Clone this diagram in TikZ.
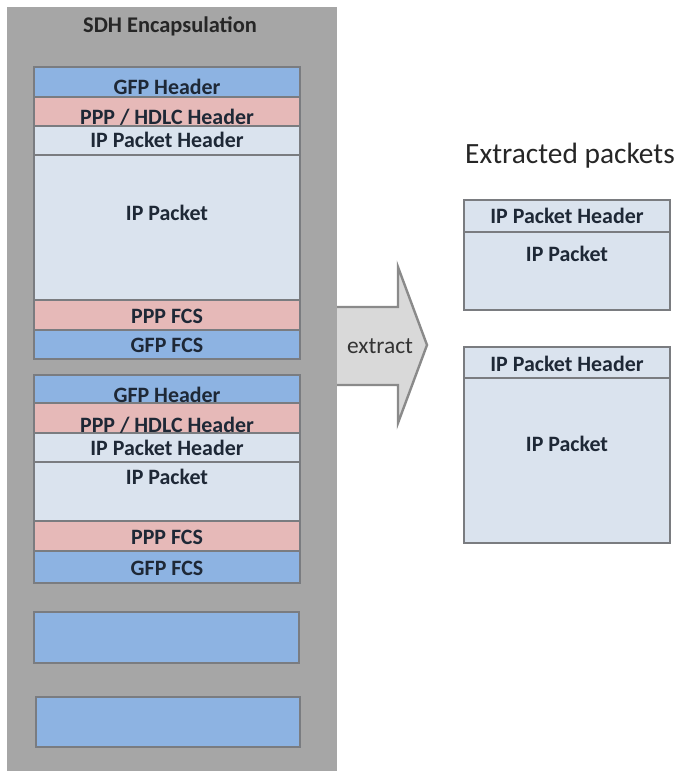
\documentclass[tikz,border=0pt]{standalone}
\usepackage{fontspec}
\setmainfont{Carlito}
\definecolor{framegray}{HTML}{A6A6A6}
\definecolor{cellline}{HTML}{7A7C80}
\definecolor{gfpblue}{HTML}{8DB3E2}
\definecolor{ppppink}{HTML}{E6B9B8}
\definecolor{iplight}{HTML}{DAE3EE}
\definecolor{labeltext}{HTML}{1E2836}
\definecolor{arrowfill}{HTML}{D9D9D9}
\definecolor{arrowline}{HTML}{8A8A8A}
\begin{document}
\begin{tikzpicture}[x=1bp,y=-1bp,
  cell/.style={draw=cellline, line width=2.6bp},
  gfp/.style={cell, fill=gfpblue},
  ppp/.style={cell, fill=ppppink},
  ip/.style={cell, fill=iplight},
  lbl/.style={anchor=base, inner sep=0pt, text=labeltext,
    font=\fontsize{22}{24}\selectfont\bfseries},
  title/.style={anchor=base, inner sep=0pt, text=black!85,
    font=\fontsize{22.5}{24}\selectfont\bfseries},
  heading/.style={anchor=base west, inner sep=0pt, text=black!85,
    font=\fontsize{29.5}{32}\selectfont},
  arrowlbl/.style={anchor=base, inner sep=0pt, text=black!80,
    font=\fontsize{23.5}{26}\selectfont}]
\useasboundingbox (0,0) rectangle (678,771);

% extraction arrow (its tail is hidden under the frame)
\fill[arrowfill] (330,307) -- (398,307) -- (398,267) -- (427,345)
  -- (398,423) -- (398,385) -- (330,385) -- cycle;
\draw[arrowline, line width=2.4bp, line join=miter]
  (330,307) -- (398,307) -- (398,267) -- (427,345)
  -- (398,423) -- (398,385) -- (330,385);
\node[arrowlbl] (extract) at (380,353) {extract};

% SDH frame
\fill[framegray] (7,7) rectangle (337,771);
\node[title] (sdh) at (170,33) {SDH Encapsulation};

% first encapsulated packet
\draw[gfp] (34,67) rectangle (300,97);
\draw[ppp] (34,97) rectangle (300,126);
\draw[ip]  (34,126) rectangle (300,155);
\draw[ip]  (34,155) rectangle (300,300);
\draw[ppp] (34,300) rectangle (300,330);
\draw[gfp] (34,330) rectangle (300,359);
\node[lbl] (gfph1) at (167,94)  {GFP Header};
\node[lbl] (ppph1) at (167,124) {PPP / HDLC Header};
\node[lbl] (iph1)  at (167,147) {IP Packet Header};
\node[lbl] (ipp1)  at (167,220) {IP Packet};
\node[lbl] (pppf1) at (167,323) {PPP FCS};
\node[lbl] (gfpf1) at (167,352) {GFP FCS};

% second encapsulated packet
\draw[gfp] (34,375) rectangle (300,403);
\draw[ppp] (34,403) rectangle (300,433);
\draw[ip]  (34,433) rectangle (300,462);
\draw[ip]  (34,462) rectangle (300,521);
\draw[ppp] (34,521) rectangle (300,551);
\draw[gfp] (34,551) rectangle (300,583);
\node[lbl] (gfph2) at (167,402) {GFP Header};
\node[lbl] (ppph2) at (167,432) {PPP / HDLC Header};
\node[lbl] (iph2)  at (167,455) {IP Packet Header};
\node[lbl] (ipp2)  at (167,484) {IP Packet};
\node[lbl] (pppf2) at (167,544) {PPP FCS};
\node[lbl] (gfpf2) at (167,575) {GFP FCS};

% further GFP frames
\draw[gfp] (34,612) rectangle (299,663);
\draw[gfp] (36,697) rectangle (300,747);

% extracted packets
\node[heading] (extracted) at (465,163) {Extracted packets};

\draw[ip] (464,200) rectangle (670,232);
\draw[ip] (464,232) rectangle (670,310);
\node[lbl] (xh1) at (567,223) {IP Packet Header};
\node[lbl] (xp1) at (567,261) {IP Packet};

\draw[ip] (464,347) rectangle (670,378);
\draw[ip] (464,378) rectangle (670,543);
\node[lbl] (xh2) at (567,371) {IP Packet Header};
\node[lbl] (xp2) at (567,451) {IP Packet};
\end{tikzpicture}
\end{document}
